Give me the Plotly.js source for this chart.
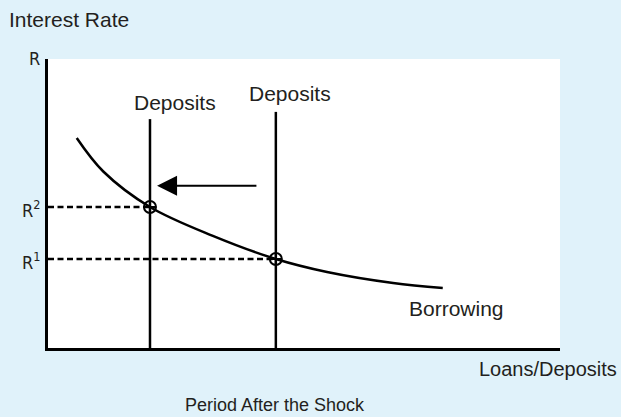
<!DOCTYPE html>
<html><head><meta charset="utf-8">
<script src="https://cdn.plot.ly/plotly-3.0.1.min.js"></script>
<style>html,body{margin:0;padding:0;background:#e0f2fa;}</style>
</head><body>
<div id="chart" style="width:621px;height:417px;"></div>
<script>
// Borrowing curve (x = loans/deposits, y = interest rate), axis units 0-100
var curveX = [5.61, 10.8, 19.92, 32.2, 44.5, 54.5, 67.4, 77.1];
var curveY = [72.66, 61.07, 48.79, 38.8, 30.8, 26.3, 22.5, 20.8];
// Deposit supply lines (after shock, before shock)
var depositX = [19.92, 44.5];
var depositTop = [79.2, 81.7];
// Equilibrium rates
var rateLabels = ["R<sup>2</sup>", "R<sup>1</sup>"];
var rateY = [48.8, 30.8];
var rateX = [19.92, 44.5];
// Shift arrow
var arrowY = 56.1, arrowFrom = 41.0, arrowTo = 21.3;

var FONT = "Liberation Sans, Arial, sans-serif";
var NARROW = "Liberation Sans Narrow, DejaVu Sans Condensed, sans-serif";
var TXT = "#231f20";

var traces = [];
traces.push({x: curveX, y: curveY, mode: "lines", line: {shape: "spline", smoothing: 1, color: "#000", width: 2.5}, hoverinfo: "skip"});
depositX.forEach(function (dx, i) {
  traces.push({x: [dx, dx], y: [0, depositTop[i]], mode: "lines", line: {color: "#000", width: 2.5}, hoverinfo: "skip"});
});
rateY.forEach(function (ry, i) {
  traces.push({x: [0, rateX[i]], y: [ry, ry], mode: "lines", line: {color: "#000", width: 2.5, dash: "6px,3.5px"}, hoverinfo: "skip"});
});
traces.push({x: rateX, y: rateY, mode: "markers", marker: {symbol: "circle-cross-open", size: 12, color: "#000", line: {width: 2, color: "#000"}}, hoverinfo: "skip"});

function lab(x, y, xref, yref, text, size, family, extra) {
  var a = {x: x, y: y, xref: xref, yref: yref, text: text, showarrow: false, xanchor: "center", yanchor: "middle",
           font: {family: family || FONT, size: size, color: TXT}};
  for (var k in (extra || {})) a[k] = extra[k];
  return a;
}

var ann = [];
ann.push({x: arrowTo, y: arrowY, ax: arrowFrom, ay: arrowY, xref: "x", yref: "y", axref: "x", ayref: "y", text: "", showarrow: true, arrowhead: 2, arrowsize: 2, arrowwidth: 2, arrowcolor: "#000", standoff: 0});
ann.push(lab(24.8, 84.8, "x", "y", "Deposits", 21));
ann.push(lab(47.3, 88.2, "x", "y", "Deposits", 21));
ann.push(lab(79.7, 13.5, "x", "y", "Borrowing", 21));
ann.push(lab(-0.080, 1.138, "paper", "paper", "Interest Rate", 21, FONT, {xanchor: "left"}));
ann.push(lab(0.977, -0.073, "paper", "paper", "Loans/Deposits", 20));
ann.push(lab(0.443, -0.197, "paper", "paper", "Period After the Shock", 18));
ann.push(lab(-0.012, 1.0, "paper", "paper", "R", 18, NARROW, {xanchor: "right", yshift: 1}));
rateY.forEach(function (ry, i) {
  ann.push(lab(-0.012, ry, "paper", "y", rateLabels[i], 18, NARROW, {xanchor: "right", yshift: -2}));
});

var layout = {
  width: 621, height: 417,
  margin: {l: 48, r: 61, t: 59, b: 69},
  paper_bgcolor: "#e0f2fa", plot_bgcolor: "#ffffff",
  showlegend: false,
  xaxis: {range: [0, 100], showgrid: false, zeroline: false, showticklabels: false, ticks: "", showline: true, linecolor: "#000", linewidth: 3, fixedrange: true},
  yaxis: {range: [0, 100], showgrid: false, zeroline: false, showticklabels: false, ticks: "", showline: true, linecolor: "#000", linewidth: 3, fixedrange: true},
  annotations: ann
};
Plotly.newPlot("chart", traces, layout, {displayModeBar: false, staticPlot: true});
</script>
</body></html>
